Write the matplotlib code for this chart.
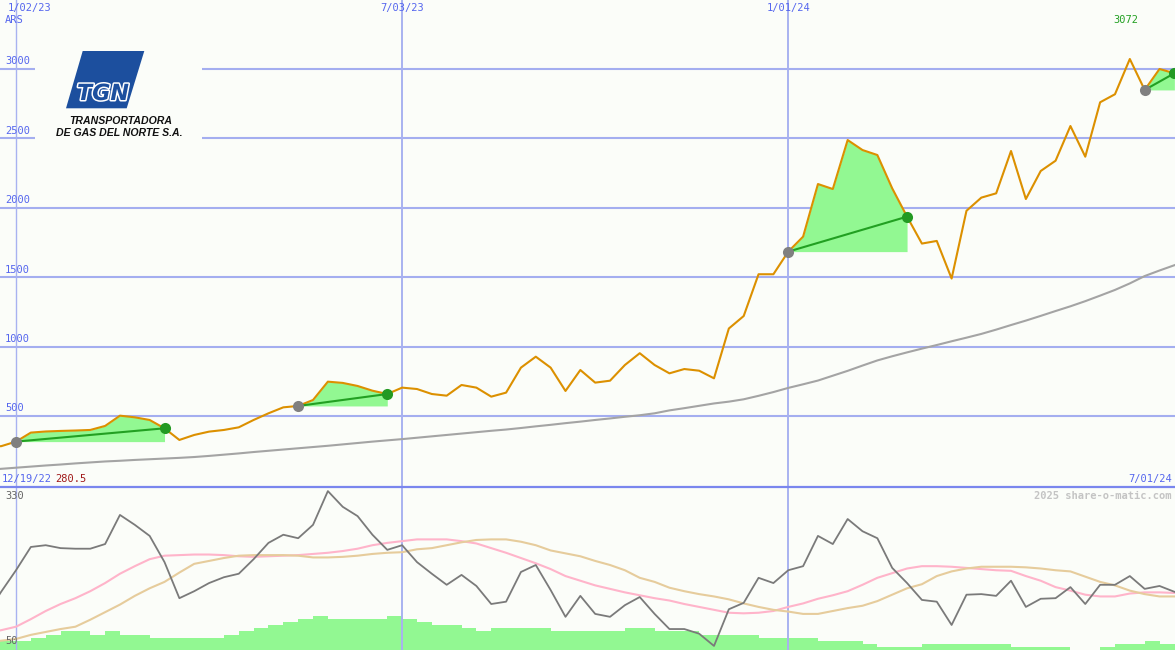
import matplotlib
matplotlib.use("Agg")
import matplotlib.pyplot as plt
import numpy as np
import matplotlib.transforms as mtransforms
from matplotlib.patches import Polygon, Rectangle
from matplotlib.lines import Line2D
import matplotlib.patheffects as pe

# ---------------- data (weekly, Mondays) ----------------
start_date = "2022-12-19"
end_date = "2024-07-02"

price = [280.5, 282, 315, 380, 388, 392, 395, 399, 428, 502, 490, 471, 411, 327, 363, 387, 399, 418, 471, 519,
         562, 572, 615, 747, 738, 716, 682, 658, 704, 694, 658, 646, 723, 704, 639, 668, 848, 927, 848, 680,
         831, 740, 754, 867, 952, 867, 807, 838, 826, 771, 1130, 1220, 1521, 1521, 1684, 1792, 2171, 2135, 2488, 2416,
         2380, 2140, 1936, 1742, 1761, 1490, 1978, 2073, 2104, 2409, 2063, 2265, 2339, 2589, 2368, 2760, 2818, 3072, 2849, 3000,
         2969]

moving_avg = [110, 119, 127, 135, 143, 150, 158, 165, 172, 177, 183, 188, 193, 198, 204, 212, 221, 230, 240, 249,
              258, 267, 276, 285, 295, 305, 315, 324, 333, 343, 353, 363, 373, 383, 393, 402, 413, 425, 436, 448,
              459, 471, 482, 494, 505, 519, 540, 556, 573, 590, 603, 620, 645, 672, 702, 728, 755, 790, 825, 863,
              900, 930, 958, 985, 1011, 1038, 1064, 1091, 1122, 1155, 1187, 1221, 1256, 1290, 1327, 1367, 1408, 1455, 1508, 1548,
              1586]

osc_main = [110, 150, 187, 227, 230, 225, 224, 224, 232, 282, 265, 246, 201, 139, 151, 165, 175, 181, 206, 234,
            248, 242, 265, 323, 296, 280, 248, 222, 230, 201, 181, 162, 179, 160, 129, 133, 184, 196, 153, 107,
            143, 112, 107, 127, 141, 112, 86, 86, 78, 57, 120, 131, 174, 165, 187, 194, 246, 232, 275, 254,
            242, 191, 165, 136, 133, 93, 145, 146, 143, 169, 124, 138, 139, 158, 129, 162, 162, 177, 155, 160,
            150]

osc_fast = [79, 84, 90, 103, 117, 129, 139, 151, 165, 181, 194, 206, 212, 213, 214, 214, 213, 211, 210, 211,
            212, 213, 215, 217, 220, 224, 230, 234, 237, 240, 240, 240, 237, 233, 225, 217, 208, 199, 189, 177,
            169, 161, 155, 149, 144, 139, 135, 129, 124, 119, 114, 113, 114, 117, 124, 130, 138, 144, 151, 162,
            174, 182, 190, 194, 194, 193, 191, 189, 187, 186, 177, 169, 158, 152, 145, 142, 142, 147, 149, 149,
            148]

osc_slow = [62, 66, 69, 76, 81, 86, 90, 102, 115, 128, 143, 156, 167, 183, 198, 203, 208, 212, 213, 213,
            213, 212, 209, 209, 210, 212, 215, 217, 218, 223, 225, 230, 235, 239, 240, 240, 236, 230, 221, 216,
            211, 203, 196, 187, 174, 167, 157, 151, 146, 142, 137, 130, 124, 119, 116, 112, 112, 117, 122, 126,
            134, 145, 156, 163, 177, 185, 190, 193, 193, 193, 192, 190, 187, 185, 176, 167, 161, 152, 146, 142,
            142]

volume_level = [3, 3, 3, 4, 5, 6, 6, 5, 6, 5, 5, 4, 4, 4, 4, 4, 5, 6, 7, 8,
                9, 10, 11, 10, 10, 10, 10, 11, 10, 9, 8, 8, 7, 6, 7, 7, 7, 7, 6, 6,
                6, 6, 6, 7, 7, 6, 6, 6, 5, 5, 5, 5, 4, 4, 4, 4, 3, 3, 3, 2,
                1, 1, 1, 2, 2, 2, 2, 2, 2, 1, 1, 1, 1, 0, 0, 1, 2, 2, 3, 2,
                2]

trade_entry = ["2023-01-02", "2023-05-15", "2024-01-01", "2024-06-17"]
trade_exit = ["2023-03-13", "2023-06-26", "2024-02-26", "2024-07-01"]

price_ticks = [500, 1000, 1500, 2000, 2500, 3000]
date_marks = ["2023-01-02", "2023-07-03", "2024-01-01"]
date_labels = ["1/02/23", "7/03/23", "1/01/24"]

# ---------------- styling ----------------
W, H = 1175, 650
BG = "#fbfdf9"
BLUE_TXT = "#5566ee"
GRID = "#a4aef0"
VLINE = "#a8b2f0"
ORANGE = "#dc9000"
MA_GREY = "#a4a4a4"
FILL_G = "#92f892"
LINE_G = "#22a022"
MONO = "DejaVu Sans Mono"
FS = 7.5

dates = np.arange(np.datetime64(start_date), np.datetime64(end_date), np.timedelta64(7, "D"))
price = np.array(price, dtype=float)

fig = plt.figure(figsize=(W / 100, H / 100), dpi=100)
fig.patch.set_facecolor(BG)

split = 163 / H
ax = fig.add_axes([0, split, 1, 1 - split])
ax2 = fig.add_axes([0, 0, 1, split])
for a in (ax, ax2):
    a.set_facecolor(BG)
    for s in a.spines.values():
        s.set_visible(False)
    a.set_xticks([])
    a.set_yticks([])

x0 = np.datetime64("2022-12-25T11:00")
x1 = np.datetime64("2024-07-01T07:00")
ax.set_xlim(x0, x1)
ax2.set_xlim(x0, x1)
ax.set_ylim(-12, 3497)
ax2.set_ylim(50, 330)

# grid
for t in price_ticks:
    ax.axhline(t, color=GRID, lw=1.5, zorder=1)
for i, d in enumerate(date_marks):
    lw = 1.0 if i == 0 else 1.4
    ax.axvline(np.datetime64(d), color=VLINE, lw=lw, zorder=1)
    ax2.axvline(np.datetime64(d), color=VLINE, lw=lw, zorder=1)

# logo box (hides grid lines behind logo)
ax.add_patch(Rectangle((35 / W, 1 - 150 / H), (202 - 35) / W, 110 / H, transform=fig.transFigure,
                       facecolor=BG, edgecolor="none", zorder=1.5, clip_on=False))

# price tick labels
trans = mtransforms.blended_transform_factory(ax.transAxes, ax.transData)
for t in price_ticks:
    ax.text(5 / W, t + 18, str(t), transform=trans, fontsize=FS, family=MONO, color=BLUE_TXT,
            va="bottom", ha="left", zorder=6)

# moving average
ax.plot(dates, moving_avg, color=MA_GREY, lw=1.5, zorder=2.5)

# trades fills
for e, x in zip(trade_entry, trade_exit):
    de, dx = np.datetime64(e), np.datetime64(x)
    m = (dates >= de) & (dates <= dx)
    pe_ = price[dates == de][0]
    ax.fill_between(dates[m], price[m], pe_, color=FILL_G, lw=0, zorder=2)

# price line
ax.plot(dates, price, color=ORANGE, lw=1.5, zorder=3)

for e, x in zip(trade_entry, trade_exit):
    de, dx = np.datetime64(e), np.datetime64(x)
    pe_ = price[dates == de][0]
    px_ = price[dates == dx][0]
    ax.plot([de, dx], [pe_, px_], color=LINE_G, lw=1.5, zorder=4)
    ax.plot([de], [pe_], "o", color="#808080", ms=8, mec="none", zorder=5)
    ax.plot([dx], [px_], "o", color="#239a23", ms=8, mec="none", zorder=5, clip_on=False)

# max label
imax = int(np.argmax(price))
tmax = mtransforms.blended_transform_factory(ax.transData, ax.transAxes)
ax.text(dates[imax] - np.timedelta64(2, "D"), 1 - 20 / 487, f"{price[imax]:.0f}", transform=tmax,
        fontsize=FS, family=MONO, color="#22a022", ha="center", va="center")

# top labels
def ftext(x, y, s, **kw):
    fig.text(x / W, 1 - y / H, s, **kw)

ftext(8, 8, date_labels[0], fontsize=FS, family=MONO, color=BLUE_TXT, va="center", ha="left")
ttop = mtransforms.blended_transform_factory(ax.transData, fig.transFigure)
for d, l in zip(date_marks[1:], date_labels[1:]):
    ax.text(np.datetime64(d), 1 - 8 / H, l, transform=ttop, fontsize=FS, family=MONO, color=BLUE_TXT,
            va="center", ha="center", clip_on=False)
ftext(5, 20, "ARS", fontsize=FS, family=MONO, color=BLUE_TXT, va="center", ha="left")

# logo
logo = Polygon([(82.7 / W, 1 - 51 / H), (144.3 / W, 1 - 51 / H), (126.7 / W, 1 - 108.3 / H), (66 / W, 1 - 108.3 / H)],
               closed=True, transform=fig.transFigure, facecolor="#1c4f9e", edgecolor="none", zorder=7)
fig.add_artist(logo)
t = fig.text(103 / W, 1 - 94 / H, "TGN", fontsize=16, fontweight="bold", style="italic", family="DejaVu Sans",
             color="#1c4f9e", ha="center", va="center", zorder=8)
t.set_path_effects([pe.withStroke(linewidth=2.2, foreground="white")])
ftext(121, 121, "TRANSPORTADORA", fontsize=7.6, fontweight="bold", style="italic", family="Liberation Sans",
      color="#111111", ha="center", va="center", zorder=8)
ftext(119, 133, "DE GAS DEL NORTE S.A.", fontsize=7.6, fontweight="bold", style="italic", family="Liberation Sans",
      color="#111111", ha="center", va="center", zorder=8)

# divider
fig.add_artist(Line2D([0, 1], [split, split], transform=fig.transFigure, color="#7a86ee", lw=1.6, zorder=9))

# lower panel labels
ftext(2, 479, "12/19/22", fontsize=FS, family=MONO, color=BLUE_TXT, va="center", ha="left")
ftext(55, 479, f"{price[0]}", fontsize=FS, family=MONO, color="#a01818", va="center", ha="left")
ftext(1172, 479, "7/01/24", fontsize=FS, family=MONO, color=BLUE_TXT, va="center", ha="right")
ftext(1172, 496, "2025 share-o-matic.com", fontsize=FS, family=MONO, fontweight="bold", color="#c4c4c4",
      va="center", ha="right")
ftext(5, 496, "330", fontsize=FS, family=MONO, color="#666666", va="center", ha="left", zorder=9)
ftext(5, 641, "50", fontsize=FS, family=MONO, color="#666666", va="center", ha="left", zorder=9)

# volume bars
axv = ax2.twinx()
axv.set_ylim(0, 163 / 3.1)
axv.set_xlim(x0, x1)
axv.axis("off")
axv.bar(dates, volume_level, width=np.timedelta64(7, "D"), align="edge", color=FILL_G, lw=0, zorder=1)

# oscillator lines
ax2.set_zorder(2)
ax2.patch.set_visible(False)
axv.set_zorder(1)
axv.patch.set_visible(False)
ax2.plot(dates, osc_fast, color="#ffb4ca", lw=1.5, zorder=3)
ax2.plot(dates, osc_slow, color="#e6cc9c", lw=1.5, zorder=3)
ax2.plot(dates, osc_main, color="#7a7a7a", lw=1.3, zorder=4)

fig.savefig("out.png", dpi=100, facecolor=BG)
